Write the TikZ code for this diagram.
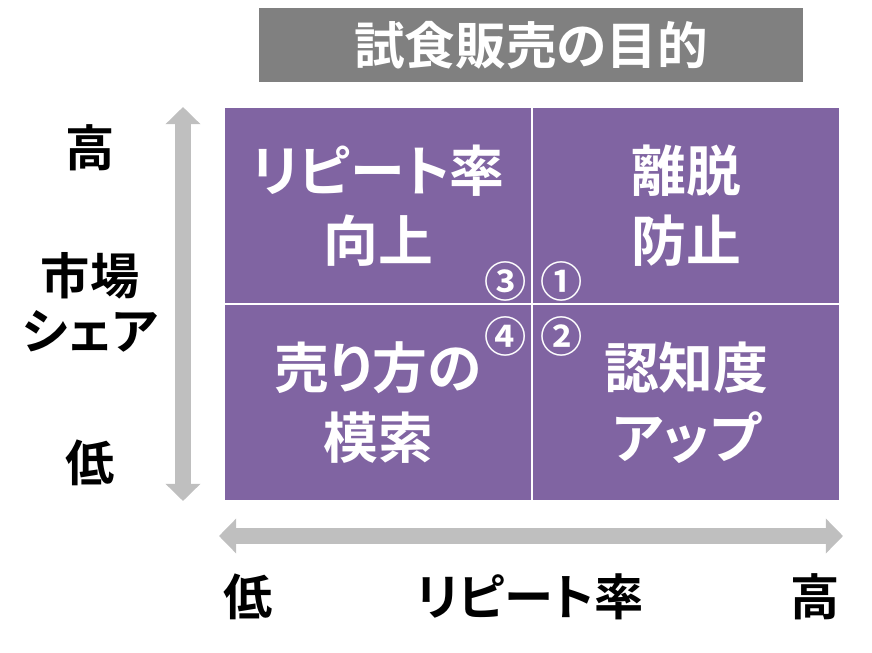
\documentclass[tikz,border=0pt]{standalone}
\usepackage{fontspec}
\setmainfont{Noto Sans CJK JP}[BoldFont={Noto Sans CJK JP Bold},RawFeature=+palt]
\usepackage{xcolor}
\usetikzlibrary{arrows.meta,positioning}
\definecolor{cellpurple}{HTML}{8064A2}
\definecolor{titlegray}{HTML}{808080}
\definecolor{axisgray}{HTML}{BFBFBF}

\begin{document}
\begin{tikzpicture}[
  x=0.025cm,y=-0.025cm,
  font=\bfseries\fontsize{35}{39}\selectfont,
  cell/.style={rectangle,fill=cellpurple,anchor=north west,minimum width=7.65cm,minimum height=4.87cm,align=center,text=white,inner sep=0pt,font=\bfseries\fontsize{39}{50}\selectfont},
  num/.style={text=white,inner sep=0pt,font=\bfseries\fontsize{30}{30}\selectfont},
  lbl/.style={align=center,inner sep=0pt},
  axis/.style={{Triangle[width=0.85cm,length=0.43cm]}-{Triangle[width=0.85cm,length=0.43cm]},line width=0.4cm,draw=axisgray}
]
\useasboundingbox (0,0) rectangle (872,652);

\node[fill=titlegray,text=white,minimum width=13.575cm,minimum height=1.85cm,inner sep=0pt,font=\bfseries\fontsize{36}{36}\selectfont] (title) at (531,45) {試食販売の目的};

% quadrants
\node[cell] (tl) at (225,108) {リピート率\\向上};
\node[cell] (tr) at (533,108) {離脱\\防止};
\node[cell] (bl) at (225,305) {売り方の\\模索};
\node[cell] (br) at (533,305) {認知度\\アップ};

\node[num] (n3) at (506,281) {③};
\node[num] (n1) at (562,281) {①};
\node[num] (n4) at (506,336) {④};
\node[num] (n2) at (562,336) {②};

% axes
\coordinate (vtop) at (183,107);
\coordinate (vbot) at (183,501);
\coordinate (hleft) at (219,536);
\coordinate (hright) at (843,536);
\draw[axis] (vtop) -- (vbot);
\draw[axis] (hleft) -- (hright);

\node[lbl] (yhigh) at (90,148) {高};
\node[lbl] (yname) at (90,302) {市場\\シェア};
\node[lbl] (ylow) at (90,463) {低};
\node[lbl] (xlow) at (248,597) {低};
\node[lbl] (xname) at (530,597) {リピート率};
\node[lbl] (xhigh) at (815,597) {高};
\end{tikzpicture}
\end{document}
